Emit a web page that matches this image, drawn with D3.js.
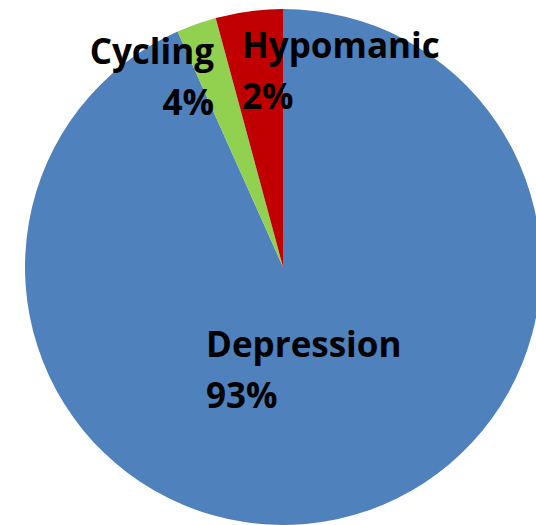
<!DOCTYPE html>
<html>
<head>
<meta charset="utf-8">
<script src="https://cdn.jsdelivr.net/npm/d3@7"></script>
<style>
  html, body { margin: 0; padding: 0; background: #fff; }
  svg { display: block; }
</style>
</head>
<body>
<svg id="chart" width="536" height="525"></svg>
<script>
const categories = ["Depression", "Cycling", "Hypomanic"];
const values = [93.3, 2.5, 4.2];
const percentLabels = ["93%", "4%", "2%"];
const colors = ["#4F81BD", "#92D050", "#C00000"];

// label layout (anchor point of first line, alignment)
const labelLayout = [
  { x: 206, y: 357, anchor: "start" },
  { x: 214, y: 64, anchor: "end" },
  { x: 242, y: 58, anchor: "start" }
];

const svg = d3.select("#chart");
const cx = 283, cy = 267, r = 258;

const pie = d3.pie().sort(null).value(d => d.value).startAngle(0).endAngle(2 * Math.PI);
const arc = d3.arc().innerRadius(0).outerRadius(r);

const data = categories.map((c, i) => ({ name: c, value: values[i], pct: percentLabels[i], color: colors[i], layout: labelLayout[i] }));

const g = svg.append("g").attr("transform", `translate(${cx},${cy})`);
g.selectAll("path")
  .data(pie(data))
  .join("path")
  .attr("d", arc)
  .attr("fill", d => d.data.color);

const lg = svg.append("g")
  .attr("font-family", "'Open Sans', sans-serif")
  .attr("font-weight", "bold")
  .attr("font-size", 35)
  .attr("fill", "#000");

data.forEach(d => {
  const t = lg.append("text")
    .attr("x", d.layout.x)
    .attr("y", d.layout.y)
    .attr("text-anchor", d.layout.anchor);
  t.append("tspan").attr("x", d.layout.x).attr("dy", 0).text(d.name);
  t.append("tspan").attr("x", d.layout.x).attr("dy", 51).text(d.pct);
});
</script>
</body>
</html>
